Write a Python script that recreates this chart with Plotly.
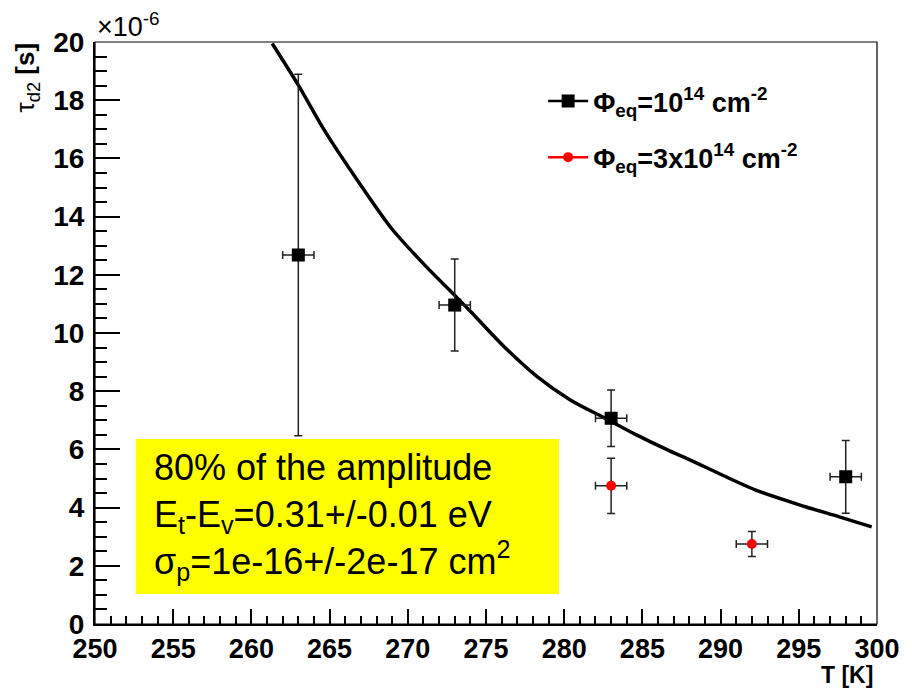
import plotly.graph_objects as go

# ---- data (tau in units of 1e-6 s) ----
T_a = [263, 273, 283, 298]
tau_a = [12.68, 10.96, 7.07, 5.06]
tau_a_err = [6.21, 1.58, 0.97, 1.25]
T_a_err = [1.0, 1.0, 1.0, 1.0]

T_b = [283, 292]
tau_b = [4.75, 2.75]
tau_b_err = [0.95, 0.43]
T_b_err = [1.0, 1.0]

fit_T = [261.33, 263.0, 264.72, 266.84, 268.95, 271.07, 273.19, 274.03, 276.16,
         278.27, 280.39, 282.51, 284.62, 286.74, 288.0, 292.25, 295.43, 297.54, 299.66]
fit_tau = [19.95, 18.52, 16.92, 15.2, 13.6, 12.34, 11.19, 10.73, 9.53,
           8.50, 7.70, 7.10, 6.50, 5.95, 5.65, 4.6, 4.03, 3.69, 3.34]

x_ticks = [250, 255, 260, 265, 270, 275, 280, 285, 290, 295, 300]
y_ticks = [0, 2, 4, 6, 8, 10, 12, 14, 16, 18, 20]

legend_a = "<b>Φ<sub>eq</sub>=10<sup>14</sup> cm<sup>-2</sup></b>"
legend_b = "<b>Φ<sub>eq</sub>=3x10<sup>14</sup> cm<sup>-2</sup></b>"
box_text = ("80% of the amplitude<br>E<sub>t</sub>-E<sub>v</sub>=0.31+/-0.01 eV<br>"
            "σ<sub>p</sub>=1e-16+/-2e-17 cm<sup>2</sup>")

FONT = "Liberation Sans, Arial, sans-serif"

fig = go.Figure()

# fit curve
fig.add_trace(go.Scatter(x=fit_T, y=fit_tau, mode="lines", line_shape="spline",
                         line=dict(color="black", width=3.5, smoothing=0.8),
                         showlegend=False, hoverinfo="skip"))

# data series
fig.add_trace(go.Scatter(
    x=T_a, y=tau_a, mode="markers", showlegend=False,
    marker=dict(symbol="square", size=13, color="black"),
    error_y=dict(type="data", array=tau_a_err, color="#222", thickness=1.5, width=4),
    error_x=dict(type="data", array=T_a_err, color="#222", thickness=1.5, width=4),
))
fig.add_trace(go.Scatter(
    x=T_b, y=tau_b, mode="markers", showlegend=False,
    marker=dict(symbol="circle", size=10, color="red"),
    error_y=dict(type="data", array=tau_b_err, color="#222", thickness=1.5, width=4),
    error_x=dict(type="data", array=T_b_err, color="#222", thickness=1.5, width=4),
))

# legend entries
fig.add_trace(go.Scatter(x=[None], y=[None], mode="lines+markers", name=legend_a,
                         legendgroup="a",
                         line=dict(color="black", width=2.5),
                         marker=dict(symbol="square", size=13, color="black")))
fig.add_trace(go.Scatter(x=[None], y=[None], mode="lines+markers", name=legend_b,
                         legendgroup="b",
                         line=dict(color="red", width=2.5),
                         marker=dict(symbol="circle", size=10, color="red")))

L, R, T, B = 95, 30, 42, 68
W, H = 912, 692
pw, ph = W - L - R, H - T - B

def px(xp):
    return (xp - L) / pw

def py(yp):
    return (H - B - yp) / ph

fig.update_layout(
    width=W, height=H,
    margin=dict(l=L, r=R, t=T, b=B),
    paper_bgcolor="white", plot_bgcolor="white",
    font=dict(family=FONT, color="black"),
    legend=dict(x=px(546), y=py(77), xanchor="left", yanchor="top",
                bgcolor="rgba(0,0,0,0)", font=dict(size=27, family=FONT),
                tracegroupgap=18, itemwidth=40),
    xaxis=dict(range=[250, 300], tickvals=x_ticks, ticktext=[str(v) for v in x_ticks],
               ticks="inside", ticklen=15, tickwidth=1.5, tickcolor="black",
               minor=dict(dtick=1, ticks="inside", ticklen=8, tickwidth=1.5, tickcolor="black"),
               showline=True, linecolor="black", linewidth=2, showgrid=False, zeroline=False,
               tickfont=dict(size=27, family=FONT, weight="bold"), ticklabelstandoff=0),
    yaxis=dict(range=[0, 20], tickvals=y_ticks, ticktext=[str(v) for v in y_ticks],
               ticks="inside", ticklen=25, tickwidth=1.5, tickcolor="black",
               minor=dict(dtick=0.5, ticks="inside", ticklen=12, tickwidth=1.5, tickcolor="black"),
               showline=True, linecolor="black", linewidth=2, showgrid=False, zeroline=False,
               tickfont=dict(size=28, family=FONT, weight="bold"), ticklabelstandoff=3),
    shapes=[
        dict(type="rect", xref="paper", yref="paper", x0=0, x1=1, y0=0, y1=1,
             line=dict(color="black", width=1.2), layer="above"),
        dict(type="rect", xref="paper", yref="paper", x0=px(136), x1=px(562),
             y0=py(594), y1=py(439), fillcolor="yellow", line=dict(width=0), layer="above"),
    ],
    annotations=[
        dict(text=box_text, xref="paper", yref="paper", x=px(152), y=py(516),
             xanchor="left", yanchor="middle", align="left", showarrow=False,
             font=dict(size=36, family=FONT, color="black")),
        dict(text="×10<sup>-6</sup>", xref="paper", yref="paper", x=px(95), y=py(44),
             xanchor="left", yanchor="bottom", showarrow=False,
             font=dict(size=27, family=FONT)),
        dict(text="τ<sub>d2</sub> <b>[s]</b>", xref="paper", yref="paper", x=px(26), y=py(40),
             xanchor="center", yanchor="top", textangle=-90, showarrow=False,
             font=dict(size=26, family=FONT)),
        dict(text="<b>T [K]</b>", xref="paper", yref="paper", x=px(880), y=py(675),
             xanchor="right", yanchor="middle", showarrow=False,
             font=dict(size=23, family=FONT)),
    ],
)

fig.write_html("out.html")
